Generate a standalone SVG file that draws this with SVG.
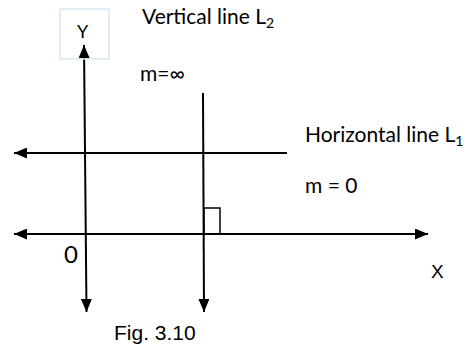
<svg xmlns="http://www.w3.org/2000/svg" width="468" height="345" viewBox="0 0 468 345">
<style>
.ln{stroke:#000;stroke-width:2;fill:none}
.lb{font-family:Lato,"Liberation Sans",sans-serif;font-size:21px;fill:#000}
.ar{font-family:"Liberation Sans",Arial,sans-serif;fill:#000}
</style>
<defs>
<marker id="ah" markerUnits="userSpaceOnUse" markerWidth="14" markerHeight="11" refX="13" refY="5.5" orient="auto-start-reverse">
<path d="M0,0 L13,5.5 L0,11 z" fill="#000"/>
</marker>
</defs>
<rect width="468" height="345" fill="#fff"/>
<g id="connectors">
<line id="y-axis" class="ln" x1="86.5" y1="312" x2="84" y2="45" marker-start="url(#ah)" marker-end="url(#ah)"/>
<line id="x-axis" class="ln" x1="14" y1="234" x2="428" y2="234" marker-start="url(#ah)" marker-end="url(#ah)"/>
<line id="line-L2" class="ln" x1="203" y1="93" x2="204" y2="312" marker-end="url(#ah)"/>
<line id="line-L1" class="ln" x1="287" y1="153" x2="14" y2="153" marker-end="url(#ah)"/>
<rect id="right-angle" x="204" y="208" width="16" height="26" fill="none" stroke="#000" stroke-width="1.5"/>
</g>
<g id="y-label">
<rect x="60" y="9" width="49" height="50" fill="none" stroke="#d6e8ef" stroke-width="1.5"/>
<text class="lb" x="77" y="38" style="font-size:18px">Y</text>
</g>
<g id="l2-label">
<text class="lb" x="142" y="24">Vertical line L<tspan font-size="14" dy="4">2</tspan></text>
<text class="lb" x="140" y="81">m=∞</text>
</g>
<g id="l1-label">
<text class="lb" x="305" y="142">Horizontal line L<tspan font-size="14" dy="4">1</tspan></text>
<text class="lb" x="305" y="193">m = 0</text>
</g>
<g id="origin-label"><text class="lb" x="64" y="263" style="font-size:24px">0</text></g>
<g id="x-label"><text class="ar" x="431" y="278" font-size="19">X</text></g>
<g id="caption"><text class="ar" x="114" y="340" font-size="21">Fig. 3.10</text></g>
</svg>
